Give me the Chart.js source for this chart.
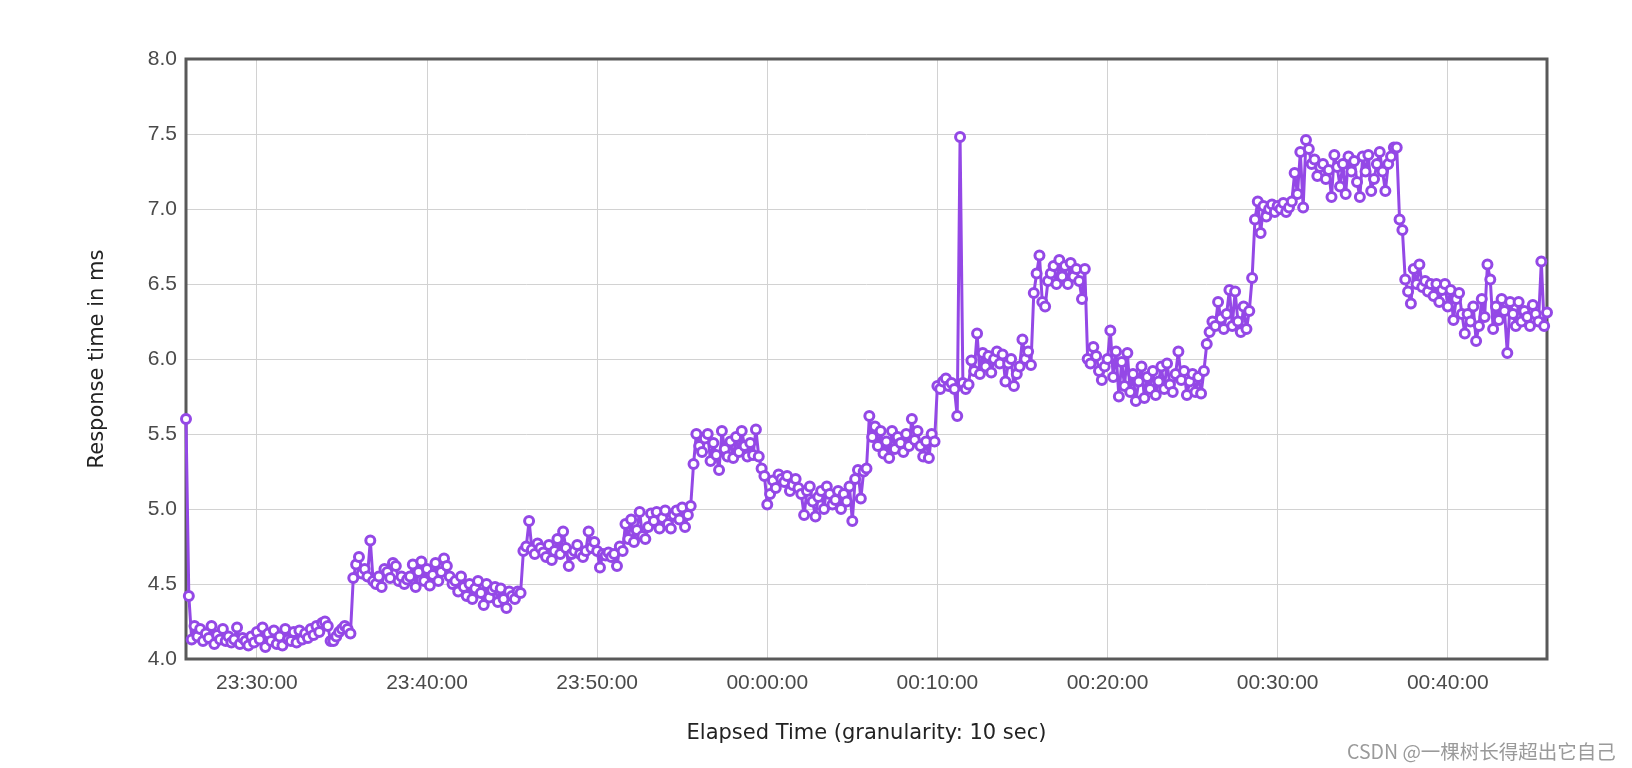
<!DOCTYPE html>
<html lang="en">
<head>
    <meta charset="UTF-8">
    <title>Response time in ms</title>
    <script src="https://cdn.jsdelivr.net/npm/chart.js"></script>
    <style>
        body { margin: 0; background: #fff; }
        #wrap { position: relative; width: 1632px; height: 768px; }
        #mark {
            position: absolute; left: 1347px; top: 740px;
            font: 19.5px "Noto Sans CJK SC", sans-serif; line-height: 22px;
            color: #9a9a9a; white-space: nowrap;
        }
    </style>
</head>
<body>
<div id="wrap">
    <canvas id="respChart" width="1632" height="768"></canvas>
    <div id="mark">CSDN @一棵树长得超出它自己</div>
</div>
<script>
    // first sample time and sampling step (granularity 10 sec)
    const startTime = '23:25:50';
    const stepSec = 10;

    const tickLabels = ['23:30:00', '23:40:00', '23:50:00', '00:00:00', '00:10:00', '00:20:00', '00:30:00', '00:40:00'];

    // response time in ms, one row per minute (6 samples)
    const responseMs = [
        5.6,
        4.42, 4.13, 4.22, 4.15, 4.2, 4.12,      // 23:26
        4.17, 4.14, 4.22, 4.1, 4.16, 4.13,
        4.2, 4.12, 4.15, 4.11, 4.13, 4.21,
        4.1, 4.14, 4.12, 4.09, 4.15, 4.11,
        4.18, 4.13, 4.21, 4.08, 4.17, 4.12,     // 23:30
        4.19, 4.1, 4.15, 4.09, 4.2, 4.13,
        4.12, 4.18, 4.11, 4.19, 4.13, 4.17,
        4.14, 4.2, 4.16, 4.22, 4.18, 4.24,
        4.25, 4.22, 4.12, 4.12, 4.15, 4.18,
        4.2, 4.22, 4.2, 4.17, 4.54, 4.63,       // 23:35
        4.68, 4.57, 4.6, 4.55, 4.79, 4.52,
        4.5, 4.55, 4.48, 4.6, 4.58, 4.54,
        4.64, 4.62, 4.52, 4.55, 4.5, 4.53,
        4.55, 4.63, 4.48, 4.58, 4.65, 4.52,
        4.6, 4.49, 4.56, 4.64, 4.52, 4.58,      // 23:40
        4.67, 4.62, 4.55, 4.5, 4.52, 4.45,
        4.55, 4.48, 4.42, 4.5, 4.4, 4.47,
        4.52, 4.44, 4.36, 4.5, 4.41, 4.46,
        4.48, 4.38, 4.47, 4.4, 4.34, 4.45,
        4.42, 4.4, 4.45, 4.44, 4.72, 4.75,      // 23:45
        4.92, 4.73, 4.7, 4.77, 4.74, 4.71,
        4.68, 4.76, 4.66, 4.72, 4.8, 4.7,
        4.85, 4.74, 4.62, 4.7, 4.72, 4.76,
        4.7, 4.68, 4.72, 4.85, 4.74, 4.78,
        4.72, 4.61, 4.7, 4.69, 4.71, 4.68,      // 23:50
        4.7, 4.62, 4.75, 4.72, 4.9, 4.8,
        4.93, 4.78, 4.86, 4.98, 4.82, 4.8,
        4.88, 4.97, 4.92, 4.98, 4.87, 4.94,
        4.99, 4.9, 4.87, 4.96, 4.99, 4.93,
        5.01, 4.88, 4.96, 5.02, 5.3, 5.5,       // 23:55
        5.42, 5.38, 5.47, 5.5, 5.32, 5.44,
        5.36, 5.26, 5.52, 5.4, 5.35, 5.45,
        5.34, 5.48, 5.38, 5.52, 5.42, 5.35,
        5.44, 5.36, 5.53, 5.35, 5.27, 5.22,
        5.03, 5.1, 5.19, 5.14, 5.23, 5.2,       // 00:00
        5.18, 5.22, 5.12, 5.16, 5.2, 5.14,
        5.1, 4.96, 5.12, 5.15, 5.05, 4.95,
        5.08, 5.12, 5.0, 5.15, 5.1, 5.03,
        5.06, 5.12, 5.0, 5.1, 5.05, 5.15,
        4.92, 5.2, 5.26, 5.07, 5.25, 5.27,      // 00:05
        5.62, 5.48, 5.55, 5.42, 5.52, 5.37,
        5.45, 5.34, 5.52, 5.4, 5.48, 5.44,
        5.38, 5.5, 5.42, 5.6, 5.46, 5.52,
        5.42, 5.35, 5.45, 5.34, 5.5, 5.45,
        5.82, 5.8, 5.85, 5.87, 5.82, 5.84,      // 00:10
        5.8, 5.62, 7.48, 5.84, 5.8, 5.83,
        5.99, 5.92, 6.17, 5.9, 6.04, 5.95,
        6.02, 5.91, 6.0, 6.05, 5.97, 6.03,
        5.85, 5.97, 6.0, 5.82, 5.9, 5.95,
        6.13, 6.0, 6.05, 5.96, 6.44, 6.57,      // 00:15
        6.69, 6.38, 6.35, 6.52, 6.57, 6.62,
        6.5, 6.66, 6.55, 6.62, 6.5, 6.64,
        6.55, 6.6, 6.52, 6.4, 6.6, 6.0,
        5.97, 6.08, 6.02, 5.92, 5.86, 5.95,
        6.0, 6.19, 5.88, 6.05, 5.75, 5.98,      // 00:20
        5.82, 6.04, 5.78, 5.9, 5.72, 5.85,
        5.95, 5.74, 5.88, 5.8, 5.92, 5.76,
        5.85, 5.95, 5.8, 5.97, 5.83, 5.78,
        5.9, 6.05, 5.86, 5.92, 5.76, 5.85,
        5.9, 5.78, 5.88, 5.77, 5.92, 6.1,       // 00:25
        6.18, 6.25, 6.22, 6.38, 6.27, 6.2,
        6.3, 6.46, 6.22, 6.45, 6.25, 6.18,
        6.35, 6.2, 6.32, 6.54, 6.93, 7.05,
        6.84, 7.02, 6.95, 7.0, 7.03, 6.98,
        7.02, 7.0, 7.04, 6.98, 7.01, 7.05,      // 00:30
        7.24, 7.1, 7.38, 7.01, 7.46, 7.4,
        7.3, 7.33, 7.22, 7.28, 7.3, 7.2,
        7.26, 7.08, 7.36, 7.28, 7.15, 7.3,
        7.1, 7.35, 7.25, 7.32, 7.18, 7.08,
        7.35, 7.25, 7.36, 7.12, 7.2, 7.3,       // 00:35
        7.38, 7.25, 7.12, 7.3, 7.35, 7.41,
        7.41, 6.93, 6.86, 6.53, 6.45, 6.37,
        6.6, 6.5, 6.63, 6.48, 6.52, 6.45,
        6.5, 6.42, 6.5, 6.38, 6.46, 6.5,
        6.35, 6.46, 6.26, 6.4, 6.44, 6.3,       // 00:40
        6.17, 6.3, 6.25, 6.35, 6.12, 6.22,
        6.4, 6.28, 6.63, 6.53, 6.2, 6.35,
        6.26, 6.4, 6.32, 6.04, 6.38, 6.3,
        6.22, 6.38, 6.25, 6.32, 6.28, 6.22,
        6.36, 6.3, 6.25, 6.65, 6.22, 6.31       // 00:45
    ];

    // seconds counted from 23:00:00, past midnight keeps counting
    function toSec(hms) {
        const [h, m, s] = hms.split(':').map(Number);
        let sec = (h - 23) * 3600 + m * 60 + s;
        if (sec < 0) sec += 86400;
        return sec;
    }
    function fmt(sec) {
        const t = (23 * 3600 + sec) % 86400;
        const p = n => String(n).padStart(2, '0');
        return p(Math.floor(t / 3600)) + ':' + p(Math.floor(t / 60) % 60) + ':' + p(t % 60);
    }

    const t0 = toSec(startTime);
    const points = responseMs.map((v, i) => ({ x: t0 + i * stepSec, y: v }));

    const frame = {
        id: 'frame',
        beforeDatasetsDraw(chart) {
            const a = chart.chartArea, c = chart.ctx;
            c.save();
            c.strokeStyle = '#595959';
            c.lineWidth = 3;
            c.strokeRect(a.left, a.top, a.right - a.left, a.bottom - a.top);
            c.restore();
        }
    };

    Chart.defaults.font.family = '"Liberation Sans", Arial, sans-serif';

    new Chart(document.getElementById('respChart'), {
        type: 'line',
        data: {
            datasets: [{
                data: points,
                borderColor: '#9448e6',
                borderWidth: 3,
                borderJoinStyle: 'round',
                borderCapStyle: 'round',
                backgroundColor: '#ffffff',
                pointBackgroundColor: '#ffffff',
                pointBorderColor: '#9448e6',
                pointBorderWidth: 3,
                pointRadius: 4.5,
                tension: 0,
                clip: false
            }]
        },
        options: {
            responsive: false,
            animation: false,
            layout: { padding: { top: 59, right: 85, left: 0, bottom: 0 } },
            plugins: { legend: { display: false }, tooltip: { enabled: false } },
            scales: {
                x: {
                    type: 'linear',
                    min: t0,
                    max: t0 + (responseMs.length - 1) * stepSec,
                    afterBuildTicks: s => { s.ticks = tickLabels.map(l => ({ value: toSec(l) })); },
                    afterFit: s => { s.height = 109; },
                    border: { display: false },
                    grid: { color: '#d2d2d2', lineWidth: 1, drawTicks: false },
                    ticks: {
                        callback: v => fmt(v),
                        color: '#4a4a4a',
                        font: { size: 21 },
                        padding: 12,
                        maxRotation: 0,
                        autoSkip: false
                    },
                    title: {
                        display: true,
                        text: 'Elapsed Time (granularity: 10 sec)',
                        color: '#222',
                        font: { family: '"DejaVu Sans", sans-serif', size: 21 },
                        padding: { top: 0, bottom: 22 }
                    }
                },
                y: {
                    min: 4,
                    max: 8,
                    afterFit: s => { s.width = 186; },
                    border: { display: false },
                    grid: { color: '#d2d2d2', lineWidth: 1, drawTicks: false },
                    ticks: {
                        stepSize: 0.5,
                        callback: v => v.toFixed(1),
                        color: '#4a4a4a',
                        font: { size: 21 },
                        padding: 9
                    },
                    title: {
                        display: true,
                        text: 'Response time in ms',
                        color: '#222',
                        font: { family: '"DejaVu Sans", sans-serif', size: 21 },
                        padding: { top: 85, bottom: 0 }
                    }
                }
            }
        },
        plugins: [frame]
    });
</script>
</body>
</html>
